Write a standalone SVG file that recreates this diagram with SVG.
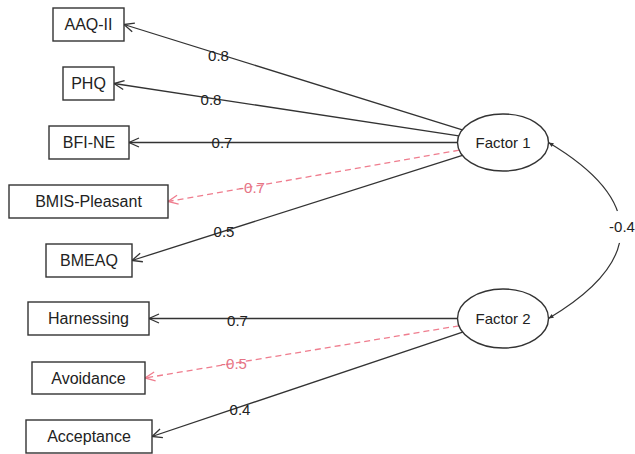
<svg xmlns="http://www.w3.org/2000/svg" width="635" height="454" viewBox="0 0 635 454">
<style>
.box{fill:#fff;stroke:#333;stroke-width:1.4}
.ell{fill:#fff;stroke:#333;stroke-width:1.4}
.t{font-family:"Liberation Sans",Arial,sans-serif;font-size:16px;fill:#222;text-anchor:middle}
.ft{font-family:"Liberation Sans",Arial,sans-serif;font-size:15px;fill:#222;text-anchor:middle}
.e{fill:none;stroke:#333;stroke-width:1.3;marker-end:url(#ah)}
.n{fill:none;stroke:#ef7d8e;stroke-width:1.3;stroke-dasharray:6 4;marker-end:url(#ahp)}
.lab{font-family:"Liberation Sans",Arial,sans-serif;font-size:15px;fill:#222;text-anchor:middle}
.labn{font-family:"Liberation Sans",Arial,sans-serif;font-size:15px;fill:#e57384;text-anchor:middle}
.cov{fill:none;stroke:#333;stroke-width:1.2;marker-start:url(#chs);marker-end:url(#ch)}
.halo{paint-order:stroke;stroke:#fff;stroke-width:22;stroke-linejoin:round}
</style>
<defs>
<marker id="ah" viewBox="-11 -6 12 12" refX="0" refY="0" markerWidth="12" markerHeight="12" markerUnits="userSpaceOnUse" orient="auto">
<path d="M-10,-4.5 L0,0 L-10,4.5" fill="none" stroke="#333" stroke-width="1.3"/>
</marker>
<marker id="ahp" viewBox="-11 -6 12 12" refX="0" refY="0" markerWidth="12" markerHeight="12" markerUnits="userSpaceOnUse" orient="auto">
<path d="M-10,-4.5 L0,0 L-10,4.5" fill="none" stroke="#ef7d8e" stroke-width="1.3"/>
</marker>
<marker id="ch" viewBox="-6 -3 7 6" refX="0" refY="0" markerWidth="7" markerHeight="6" markerUnits="userSpaceOnUse" orient="auto">
<path d="M-5,-2.2 L0,0 L-5,2.2 Z" fill="#333"/>
</marker>
<marker id="chs" viewBox="-6 -3 7 6" refX="0" refY="0" markerWidth="7" markerHeight="6" markerUnits="userSpaceOnUse" orient="auto-start-reverse">
<path d="M-5,-2.2 L0,0 L-5,2.2 Z" fill="#333"/>
</marker>
</defs>
<rect width="635" height="454" fill="#fff"/>
<g id="connectors">
<line class="e" x1="462.3" y1="129.8" x2="124" y2="24.5"/>
<line class="e" x1="458.8" y1="135.8" x2="114" y2="83.5"/>
<line class="e" x1="457.5" y1="142.5" x2="129" y2="142.5"/>
<line class="n" x1="459.2" y1="150.2" x2="168" y2="201.5"/>
<line class="e" x1="462.4" y1="155.4" x2="132" y2="260.5"/>
<line class="e" x1="457.5" y1="318.5" x2="149" y2="318.5"/>
<line class="n" x1="458.9" y1="325.8" x2="145" y2="378"/>
<line class="e" x1="462.6" y1="332.1" x2="152" y2="436.5"/>
<path class="cov" d="M548.5,142.5 C645,200 645,261 548.5,318.5"/>
<text class="lab" x="218.5" y="60.5">0.8</text>
<text class="lab" x="211" y="104.5">0.8</text>
<text class="lab" x="222" y="147.5">0.7</text>
<text class="labn" x="252" y="193">-0.7</text>
<text class="lab" x="224" y="237">0.5</text>
<text class="lab" x="237.5" y="325.5">0.7</text>
<text class="labn" x="234" y="369">-0.5</text>
<text class="lab" x="240" y="414.5">0.4</text>
<text class="lab halo" x="622" y="232">-0.4</text>
</g>
<g id="aaq"><rect class="box" x="53" y="8" width="71" height="33"/><text class="t" x="88.5" y="30.2">AAQ-II</text></g>
<g id="phq"><rect class="box" x="63" y="67" width="51" height="33"/><text class="t" x="88.5" y="89.2">PHQ</text></g>
<g id="bfi"><rect class="box" x="49" y="126" width="80" height="33"/><text class="t" x="89" y="148.2">BFI-NE</text></g>
<g id="bmis"><rect class="box" x="9" y="185" width="159" height="33"/><text class="t" x="88.5" y="207.2">BMIS-Pleasant</text></g>
<g id="bmeaq"><rect class="box" x="46" y="244" width="86" height="33"/><text class="t" x="89" y="266.2">BMEAQ</text></g>
<g id="harnessing"><rect class="box" x="28" y="302" width="121" height="33"/><text class="t" x="88.5" y="324.2">Harnessing</text></g>
<g id="avoidance"><rect class="box" x="32" y="362" width="113" height="32"/><text class="t" x="88.5" y="383.7">Avoidance</text></g>
<g id="acceptance"><rect class="box" x="26" y="420" width="126" height="33"/><text class="t" x="89" y="442.2">Acceptance</text></g>
<g id="factor1"><ellipse class="ell" cx="503" cy="142.5" rx="45.5" ry="28.5"/><text class="ft" x="503" y="147.8">Factor 1</text></g>
<g id="factor2"><ellipse class="ell" cx="503" cy="318.5" rx="45.5" ry="29.5"/><text class="ft" x="503" y="323.8">Factor 2</text></g>
</svg>
